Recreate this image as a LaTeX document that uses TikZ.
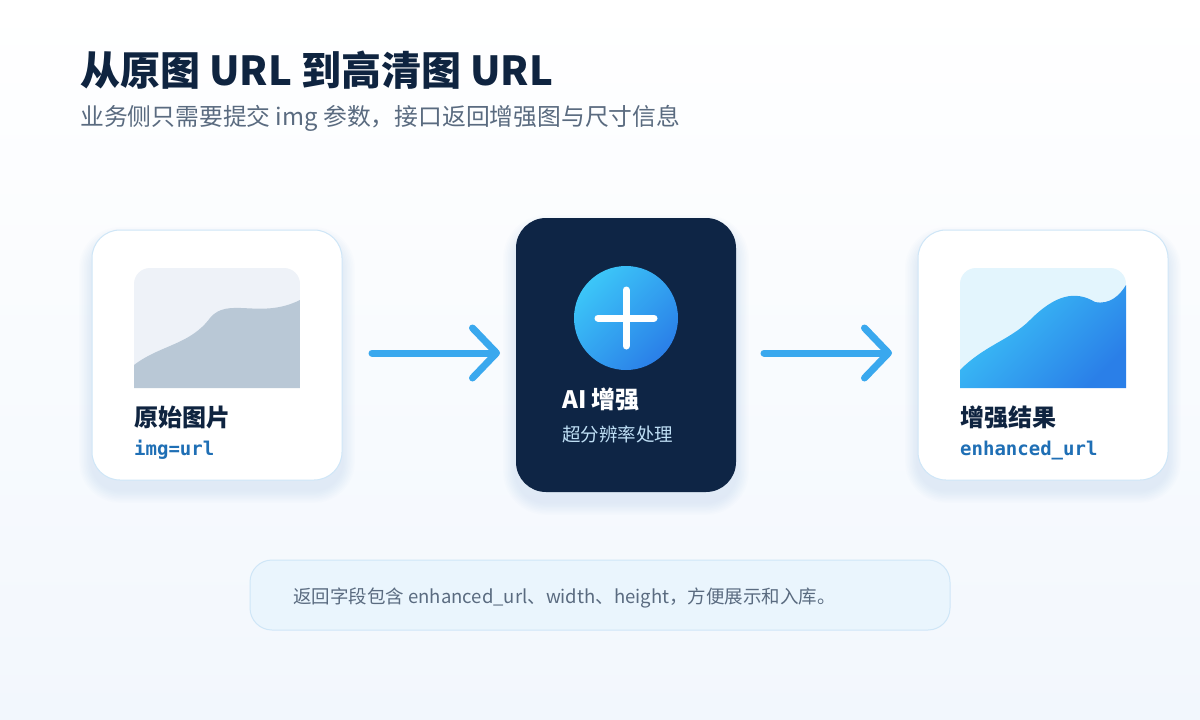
\documentclass[tikz,border=0pt]{standalone}
\usepackage{fontspec}
\setmainfont{Noto Sans CJK SC}
\newfontfamily\monof{DejaVu Sans Mono}
\usetikzlibrary{arrows.meta}
\definecolor{navy}{HTML}{0E2545}
\definecolor{ttl}{HTML}{0F2440}
\definecolor{sub}{HTML}{5A6B80}
\definecolor{brd}{HTML}{CFE6F7}
\definecolor{arr}{HTML}{3AA8EE}
\definecolor{monoc}{HTML}{1F6FB5}
\definecolor{cyanA}{HTML}{3CC6F8}
\definecolor{blueB}{HTML}{2A7FE8}
\definecolor{bgB}{HTML}{F2F7FD}
\definecolor{imgL}{HTML}{EEF2F8}
\definecolor{mtnL}{HTML}{B9C8D6}
\definecolor{imgR}{HTML}{E3F5FD}
\definecolor{msub}{HTML}{BFDFF5}
\definecolor{noteF}{HTML}{EAF5FD}
\definecolor{shd}{HTML}{7FA6CC}
\newcommand{\softshadow}[5]{% x1 y1 x2 y2 r
 \foreach \k in {1,...,8}{
  \fill[shd,opacity=0.018,rounded corners={#5+1.6*\k}] ({#1-1.6*\k},{#2+10-1.6*\k}) rectangle ({#3+1.6*\k},{#4+10+1.6*\k});
 }}
\begin{document}
\begin{tikzpicture}[x=1pt,y=-1pt,
 card/.style={fill=white,draw=brd,line width=1pt,rounded corners=28pt},
 flow/.style={draw=arr,line width=7pt,line cap=round,-{Straight Barb[length=24pt,width=50pt,line width=7pt,round]}},
 grad/.style={top color=cyanA,bottom color=blueB,shading angle=45},
 lbl/.style={anchor=base west,font=\fontsize{24}{28}\selectfont\bfseries,text=ttl,inner sep=0},
 mono/.style={anchor=base west,font=\fontsize{19}{22}\selectfont\monof\bfseries,text=monoc,inner sep=0}]
\useasboundingbox (0,0) rectangle (1200,720);
\shade[top color=white,bottom color=bgB] (0,0) rectangle (1200,720);
\node[anchor=base west,inner sep=0,font=\fontsize{40}{44}\selectfont\bfseries,text=ttl] (title) at (80,85) {从原图 URL 到高清图 URL};
\node[anchor=base west,inner sep=0,font=\fontsize{23.8}{28}\selectfont,text=sub] (subt) at (80,125) {业务侧只需要提交 img 参数，接口返回增强图与尺寸信息};
% left card
\softshadow{92}{230}{342}{480}{28}
\path[card] (92,230) rectangle (342,480);
\begin{scope}
\clip[rounded corners=16pt] (134,388) -- (134,268) -- (300,268) [sharp corners] -- (300,388) -- cycle;
\fill[imgL] (134,268) rectangle (300,388);
\fill[mtnL] (134,365) .. controls (160,345) and (190,345) .. (210,318) .. controls (228,296) and (260,320) .. (300,300) -- (300,388) -- (134,388) -- cycle;
\end{scope}
\node[lbl] (l1) at (134,426) {原始图片};
\node[mono] (l2) at (134,455) {img=url};
% middle card
\softshadow{516}{218}{736}{492}{30}
\fill[navy,rounded corners=30pt] (516,218) rectangle (736,492);
\shade[grad] (626,318) circle (52);
\draw[white,line width=7pt,line cap=round] (598,318) -- (654,318) (626,290) -- (626,346);
\node[lbl,text=white] (m1) at (562,408) {AI 增强};
\node[anchor=base west,inner sep=0,font=\fontsize{18.5}{22}\selectfont,text=msub] (m2) at (562,441) {超分辨率处理};
% right card
\softshadow{918}{230}{1168}{480}{28}
\path[card] (918,230) rectangle (1168,480);
\begin{scope}
\clip[rounded corners=16pt] (960,388) -- (960,268) -- (1126,268) [sharp corners] -- (1126,388) -- cycle;
\fill[imgR] (960,268) rectangle (1126,388);
\shade[grad] (960,370) .. controls (985,345) and (1010,340) .. (1030,320) .. controls (1055,295) and (1075,290) .. (1095,302) .. controls (1110,305) and (1120,295) .. (1126,285) -- (1126,388) -- (960,388) -- cycle;
\end{scope}
\node[lbl] (r1) at (960,426) {增强结果};
\node[mono] (r2) at (960,455) {enhanced\_url};
% arrows
\coordinate (a1) at (372,353); \coordinate (a2) at (500,353);
\coordinate (b1) at (764,353); \coordinate (b2) at (892,353);
\draw[flow] (a1) -- (a2);
\draw[flow] (b1) -- (b2);
% bottom
\draw[fill=noteF,draw=brd,line width=1pt,rounded corners=22pt] (250,560) rectangle (950,630);
\node[anchor=base west,inner sep=0,font=\fontsize{18.5}{22}\selectfont,text=sub] (note) at (293,603) {返回字段包含 enhanced\_url、width、height，方便展示和入库。};
\end{tikzpicture}
\end{document}
